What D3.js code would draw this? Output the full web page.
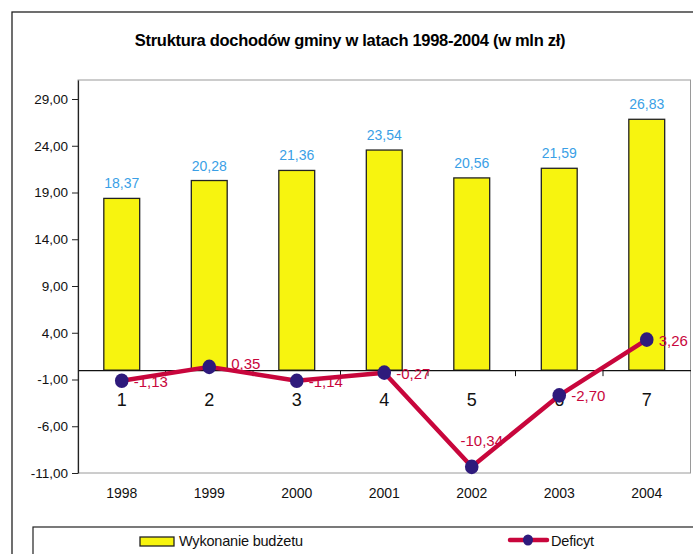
<!DOCTYPE html>
<html>
<head>
<meta charset="utf-8">
<script src="https://cdn.jsdelivr.net/npm/d3@7"></script>
<style>
  body { margin: 0; background: #fff; }
  svg { display: block; font-family: "Liberation Sans", Arial, sans-serif; }
</style>
</head>
<body>
<svg id="chart" width="693" height="554"></svg>
<script>
// data
const years = ["1998", "1999", "2000", "2001", "2002", "2003", "2004"];
const numbers = ["1", "2", "3", "4", "5", "6", "7"];
const budget = [18.37, 20.28, 21.36, 23.54, 20.56, 21.59, 26.83];
const deficit = [-1.13, 0.35, -1.14, -0.27, -10.34, -2.70, 3.26];
const yTicks = [-11, -6, -1, 4, 9, 14, 19, 24, 29];

const fmt = v => v.toFixed(2).replace(".", ",");

const svg = d3.select("#chart");

// outer chart frame (runs off the right/bottom edge)
svg.append("rect")
  .attr("x", 12).attr("y", 12).attr("width", 700).attr("height", 560)
  .attr("fill", "#fff").attr("stroke", "#222").attr("stroke-width", 1.3);

svg.append("text")
  .attr("x", 350).attr("y", 46)
  .attr("text-anchor", "middle")
  .style("font-size", "16.5px").style("font-weight", "bold")
  .style("letter-spacing", "-0.3px")
  .text("Struktura dochodów gminy w latach 1998-2004 (w mln zł)");

const pLeft = 78, pTop = 80, pRight = 690.5, pBottom = 473;

const x = d3.scaleBand().domain(years).range([pLeft, pRight]);
// -11 sits on the bottom edge, 29 at y=99
const pxPerUnit = (pBottom - 99) / 40;
const y = d3.scaleLinear()
  .domain([-11, -11 + (pBottom - pTop) / pxPerUnit])
  .range([pBottom, pTop]);

// plot area border
svg.append("rect")
  .attr("x", pLeft).attr("y", pTop).attr("width", pRight - pLeft).attr("height", pBottom - pTop)
  .attr("fill", "none").attr("stroke", "#9a9a9a").attr("stroke-width", 1);

// y axis
const yAxis = svg.append("g")
  .attr("transform", `translate(${pLeft},0)`)
  .call(d3.axisLeft(y).tickValues(yTicks).tickFormat(fmt).tickSize(6).tickSizeOuter(0));
yAxis.select(".domain").attr("stroke", "#222").attr("stroke-width", 1.2);
yAxis.selectAll(".tick line").attr("stroke", "#222");
yAxis.selectAll(".tick text")
  .attr("x", -10).attr("fill", "#111")
  .style("font-size", "13.5px").style("font-family", "Liberation Sans, Arial, sans-serif");

// bottom year labels
svg.append("g").selectAll("text")
  .data(years).join("text")
  .attr("x", d => x(d) + x.bandwidth() / 2)
  .attr("y", 498)
  .attr("text-anchor", "middle")
  .style("font-size", "14px").attr("fill", "#111")
  .text(d => d);

// bars
const bw = x.bandwidth() * 0.41;
svg.append("g").selectAll("rect")
  .data(budget).join("rect")
  .attr("x", (d, i) => x(years[i]) + (x.bandwidth() - bw) / 2)
  .attr("y", d => y(d))
  .attr("width", bw)
  .attr("height", d => y(0) - y(d))
  .attr("fill", "#f7f40f").attr("stroke", "#222").attr("stroke-width", 1.3);

svg.append("g").selectAll("text")
  .data(budget).join("text")
  .attr("x", (d, i) => x(years[i]) + x.bandwidth() / 2)
  .attr("y", d => y(d) - 10)
  .attr("text-anchor", "middle")
  .style("font-size", "14px").attr("fill", "#3a9fe6")
  .text(fmt);

// zero category axis with numbers 1..7
const xNum = d3.scaleBand().domain(numbers).range([pLeft, pRight]);
const zeroAxis = svg.append("g")
  .attr("transform", `translate(0,${y(0)})`)
  .call(d3.axisBottom(xNum).tickSize(0).tickSizeOuter(0));
zeroAxis.select(".domain").attr("stroke", "#111").attr("stroke-width", 1.2);
zeroAxis.selectAll(".tick text")
  .attr("y", 23).attr("fill", "#111")
  .style("font-size", "18px").style("font-family", "Liberation Sans, Arial, sans-serif");
zeroAxis.selectAll(".boundary")
  .data(numbers.slice(1)).join("line")
  .attr("class", "boundary")
  .attr("x1", d => xNum(d)).attr("x2", d => xNum(d))
  .attr("y1", 0).attr("y2", 6)
  .attr("stroke", "#111");

// deficit line
const cx = (d, i) => x(years[i]) + x.bandwidth() / 2;
const line = d3.line().x(cx).y(d => y(d));
svg.append("path")
  .datum(deficit)
  .attr("d", line)
  .attr("fill", "none").attr("stroke", "#c8063c").attr("stroke-width", 4.5)
  .attr("stroke-linejoin", "round");

svg.append("g").selectAll("ellipse")
  .data(deficit).join("ellipse")
  .attr("cx", cx).attr("cy", d => y(d))
  .attr("rx", 6.8).attr("ry", 7.3)
  .attr("fill", "#2e1a7c");

// labels sit right of each point; the lowest one sits above it
const minDef = d3.min(deficit);
svg.append("g").selectAll("text")
  .data(deficit).join("text")
  .attr("x", (d, i) => d === minDef ? cx(d, i) + 10 : cx(d, i) + (d > 0 && d < 1 ? 22 : 12))
  .attr("y", d => d === minDef ? y(d) - 21 : y(d) + (d > 0 && d < 1 ? 2 : 6))
  .attr("text-anchor", d => d === minDef ? "middle" : "start")
  .style("font-size", "15px").attr("fill", "#c8063c")
  .text(fmt);

// legend
svg.append("rect")
  .attr("x", 33).attr("y", 527).attr("width", 700).attr("height", 60)
  .attr("fill", "#fff").attr("stroke", "#222").attr("stroke-width", 1.2);

svg.append("rect")
  .attr("x", 140).attr("y", 537).attr("width", 34).attr("height", 9)
  .attr("fill", "#f7f40f").attr("stroke", "#222").attr("stroke-width", 1.3);
svg.append("text")
  .attr("x", 179).attr("y", 546)
  .style("font-size", "14.5px").attr("fill", "#111")
  .style("letter-spacing", "-0.2px")
  .text("Wykonanie budżetu");

svg.append("line")
  .attr("x1", 510).attr("x2", 547).attr("y1", 540).attr("y2", 540)
  .attr("stroke", "#c8063c").attr("stroke-width", 4.5).attr("stroke-linecap", "round");
svg.append("ellipse")
  .attr("cx", 528).attr("cy", 540).attr("rx", 5).attr("ry", 5.5)
  .attr("fill", "#2e1a7c");
svg.append("text")
  .attr("x", 551).attr("y", 546)
  .style("font-size", "14.5px").attr("fill", "#111")
  .style("letter-spacing", "-0.2px")
  .text("Deficyt");
</script>
</body>
</html>
